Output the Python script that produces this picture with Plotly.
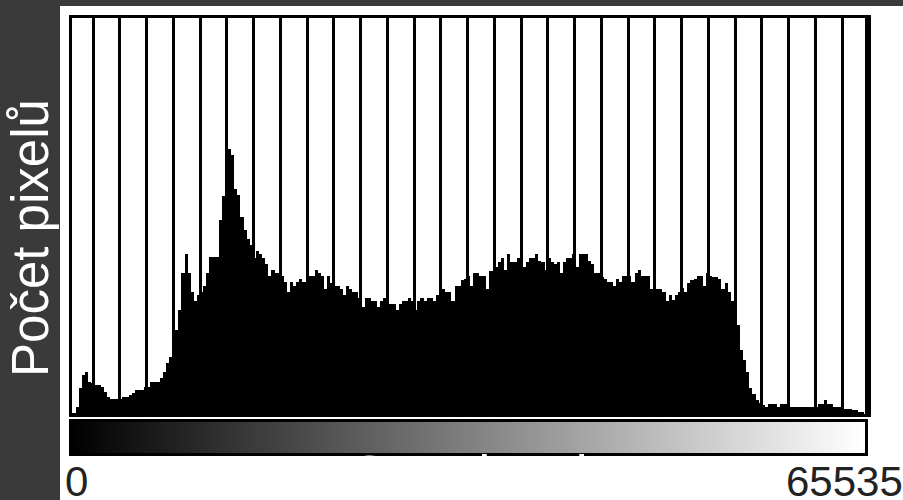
import plotly.graph_objects as go

# ---- data -------------------------------------------------------------
bin_start = list(range(0, 65536, 256))          # 256 gray-level bins
pixel_count = [
    1, 1, 7, 26, 39, 42, 32, 31, 29, 29, 27, 22, 17, 15, 15, 15,
    15, 17, 17, 19, 21, 24, 24, 24, 27, 27, 32, 32, 32, 36, 42, 51,
    57, 57, 84, 104, 141, 160, 141, 122, 113, 119, 122, 128, 141, 157, 157, 157,
    194, 218, 251, 265, 259, 225, 219, 197, 184, 175, 169, 156, 163, 160, 156, 150,
    138, 144, 141, 141, 138, 132, 122, 132, 128, 132, 135, 132, 128, 138, 138, 144,
    141, 138, 125, 138, 131, 128, 128, 125, 119, 128, 125, 122, 122, 116, 107, 116,
    116, 113, 113, 107, 113, 116, 113, 110, 110, 104, 110, 113, 113, 116, 113, 104,
    113, 116, 113, 116, 116, 113, 119, 119, 125, 122, 122, 113, 128, 128, 134, 135,
    138, 128, 141, 141, 138, 138, 125, 143, 143, 147, 152, 156, 144, 160, 152, 152,
    156, 150, 147, 152, 156, 156, 160, 153, 152, 144, 156, 152, 150, 152, 141, 152,
    156, 156, 160, 147, 160, 160, 160, 153, 150, 141, 141, 137, 135, 132, 132, 128,
    135, 132, 138, 138, 138, 132, 141, 144, 138, 138, 138, 125, 128, 125, 125, 122,
    113, 119, 114, 119, 122, 126, 122, 131, 134, 135, 138, 138, 128, 141, 138, 137,
    137, 135, 125, 131, 122, 113, 102, 89, 64, 54, 42, 26, 20, 14, 11, 9,
    7, 10, 10, 10, 7, 10, 10, 7, 7, 7, 7, 7, 7, 7, 7, 7,
    7, 10, 10, 14, 10, 10, 7, 7, 7, 5, 5, 5, 4, 4, 2, 2,
]
gray_ramp = list(range(256))                    # colour strip values
axis_labels = ["0", "65535"]
y_title = "Počet pixelů"
x_title = "Gray level"

BIN_W = 256
bin_center = [b + BIN_W / 2 for b in bin_start]

# ---- figure -----------------------------------------------------------
W, H = 903, 500
L, R, T, B = 72, 38, 18, 47
plot_w, plot_h = W - L - R, H - T - B


def px_x(p):
    return (p - L) / plot_w


def px_y(p):
    return (H - B - p) / plot_h


fig = go.Figure()

fig.add_trace(go.Bar(
    x=bin_center, y=pixel_count, width=BIN_W,
    marker=dict(color="black", line=dict(width=0)),
    xaxis="x", yaxis="y", hoverinfo="skip", showlegend=False,
))

fig.add_trace(go.Heatmap(
    x=bin_center, y=[0], z=[gray_ramp],
    colorscale=[[0, "black"], [1, "white"]], showscale=False,
    zsmooth="best", xaxis="x2", yaxis="y2", hoverinfo="skip",
))

xrange = [190, 65600]
hist_bottom = px_y(414)
strip_top = px_y(422)

fig.update_layout(
    width=W, height=H,
    margin=dict(l=L, r=R, t=T, b=B),
    paper_bgcolor="#3a3a3a",
    plot_bgcolor="white",
    bargap=0,
    xaxis=dict(domain=[0, 1], range=xrange, anchor="y",
               showgrid=True, gridcolor="black", gridwidth=3,
               tickmode="linear", tick0=1922, dtick=2207,
               showticklabels=False, ticks="", zeroline=False,
               showline=True, linecolor="black", linewidth=3, mirror=True),
    yaxis=dict(domain=[hist_bottom, 1], range=[0, 396], anchor="x",
               showgrid=False, showticklabels=False, ticks="", zeroline=False,
               showline=True, linecolor="black", linewidth=3, mirror=True),
    xaxis2=dict(domain=[0, 1], range=xrange, anchor="y2",
                showgrid=False, showticklabels=False, ticks="", zeroline=False,
                showline=True, linecolor="black", linewidth=3, mirror=True),
    yaxis2=dict(domain=[0, strip_top], range=[-0.5, 0.5], anchor="x2",
                showgrid=False, showticklabels=False, ticks="", zeroline=False,
                showline=True, linecolor="black", linewidth=3, mirror=True),
    shapes=[
        # white panel behind the chart
        dict(type="rect", xref="paper", yref="paper",
             x0=px_x(60), x1=px_x(910), y0=px_y(510), y1=px_y(6),
             fillcolor="white", line=dict(width=0), layer="below"),
        # thicker right frame of the histogram
        dict(type="line", xref="paper", yref="paper",
             x0=px_x(869.5), x1=px_x(869.5), y0=px_y(417), y1=px_y(15),
             line=dict(color="black", width=3), layer="above"),
    ],
    annotations=[
        dict(text=y_title, textangle=-90, xref="paper", yref="paper",
             x=px_x(30), y=px_y(238), xanchor="center", yanchor="middle",
             showarrow=False,
             font=dict(family="Liberation Sans, Arial, sans-serif", size=51, color="white")),
        dict(text=x_title, xref="paper", yref="paper",
             x=0.5, y=px_y(474), xanchor="center", yanchor="middle",
             showarrow=False,
             font=dict(family="Liberation Sans, Arial, sans-serif", size=53, color="white")),
        dict(text=axis_labels[0], xref="paper", yref="paper",
             x=px_x(63), y=px_y(481), xanchor="left", yanchor="middle",
             showarrow=False,
             font=dict(family="Liberation Sans Narrow, Liberation Sans, sans-serif", size=42, color="#222222")),
        dict(text=axis_labels[1], xref="paper", yref="paper",
             x=px_x(905), y=px_y(481), xanchor="right", yanchor="middle",
             showarrow=False,
             font=dict(family="Liberation Sans Narrow, Liberation Sans, sans-serif", size=42, color="#222222")),
    ],
)

fig.write_html(
    "out.html",
    config={"displayModeBar": False},
    post_script="document.body.style.margin='0';document.body.style.overflow='hidden';",
)
